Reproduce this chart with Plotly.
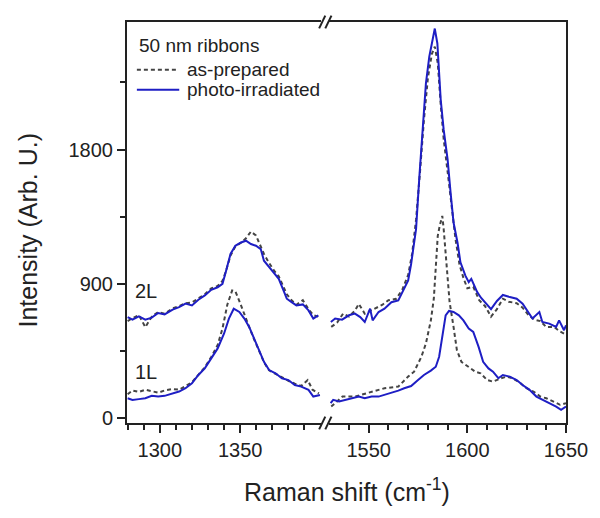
import plotly.graph_objects as go

# ---- data (Raman shift, intensity) ----
# left panel (D band region)
d_x_1l_prep = [1280, 1283, 1287, 1291, 1295, 1299, 1303, 1308, 1312, 1316, 1320, 1324, 1328, 1332,
               1336, 1339, 1342, 1345, 1347, 1350, 1353, 1356, 1359, 1362, 1365, 1368, 1372, 1376,
               1380, 1384, 1388, 1392, 1395, 1399]
d_y_1l_prep = [160, 185, 175, 190, 180, 170, 185, 195, 190, 215, 240, 290, 340, 410,
               490, 600, 760, 855, 850, 770, 680, 600, 520, 440, 370, 320, 295, 270,
               250, 230, 215, 255, 190, 165]

d_x_1l_irr = [1280, 1283, 1287, 1291, 1295, 1299, 1303, 1308, 1312, 1316, 1320, 1324, 1328, 1332,
              1336, 1340, 1343, 1346, 1349.5, 1352.6, 1355.6, 1358.7, 1361.8, 1364.8, 1368, 1372,
              1376, 1380, 1384, 1388, 1392.5, 1395.5, 1399.6]
d_y_1l_irr = [133, 122, 127, 133, 149, 144, 149, 167, 178, 200, 233, 289, 333, 400,
              467, 567, 667, 733, 711, 667, 611, 533, 455, 377, 322, 300,
              267, 255, 222, 211, 189, 144, 155]

d_x_2l = [1280, 1283, 1287, 1291, 1295, 1299, 1303, 1308, 1312, 1316, 1320, 1324, 1328, 1332,
          1336, 1339, 1341, 1344, 1347, 1350.5, 1353.6, 1356.7, 1359.8, 1362.8, 1364.8, 1368,
          1371, 1374, 1377, 1379, 1382, 1385, 1389, 1392.5, 1395.5, 1398.6]
d_y_2l_prep = [650, 670, 690, 610, 680, 710, 700, 735, 750, 770, 775, 800, 830, 870,
               885, 920, 980, 1090, 1150, 1175, 1205, 1250, 1225, 1150, 1100, 1040,
               990, 950, 880, 830, 790, 760, 790, 730, 690, 680]
d_y_2l_irr = [677, 660, 682, 660, 673, 704, 695, 727, 744, 767, 755, 793, 822, 860,
              877, 900, 977, 1100, 1155, 1177, 1189, 1167, 1155, 1133, 1055, 1011,
              967, 933, 855, 800, 777, 755, 762, 722, 667, 689]

# right panel (G band region)
g_x_1l_prep = [1531, 1536.7, 1543, 1551.5, 1558, 1565, 1570, 1573, 1576.7, 1579, 1581.5, 1583,
               1584.2, 1585, 1586, 1587.3, 1588, 1589, 1590, 1591, 1593, 1594.7, 1597, 1600.7,
               1604, 1606.7, 1610, 1613, 1617, 1620, 1623, 1627, 1630, 1633.5, 1637, 1640,
               1643.5, 1647, 1650]
g_y_1l_prep = [77, 144, 144, 178, 200, 211, 278, 311, 411, 500, 655, 800,
               1089, 1222, 1289, 1355, 1267, 1089, 933, 778, 611, 455, 377, 344,
               311, 300, 255, 244, 267, 278, 267, 233, 200, 178, 144, 133,
               111, 89, 100]

g_x_1l_irr = [1530.7, 1532, 1535, 1538, 1541.5, 1545, 1548, 1551.5, 1555, 1558, 1561.5, 1565,
              1568, 1571.5, 1575, 1578, 1581.5, 1584, 1585.7, 1587.3, 1589, 1590.7, 1593,
              1595.7, 1598, 1600.7, 1603, 1605.7, 1608, 1610.7, 1613, 1615.7, 1618, 1621.5,
              1625, 1628, 1631.5, 1635, 1638, 1641.5, 1645, 1647.5, 1650]
g_y_1l_irr = [100, 122, 111, 122, 133, 144, 133, 144, 144, 155, 171, 184,
              200, 215, 255, 289, 318, 344, 411, 544, 689, 718, 711,
              689, 655, 600, 578, 477, 377, 333, 311, 267, 289, 278,
              255, 222, 189, 144, 122, 100, 77, 55, 77]

g_x_2l_prep = [1531, 1534, 1537, 1540, 1543, 1545, 1548, 1551, 1554, 1557, 1560, 1564, 1567,
               1570, 1572, 1574, 1576, 1578, 1580, 1582, 1583.5, 1585, 1586.5, 1588, 1590,
               1592, 1594, 1596, 1598, 1600, 1603, 1606, 1609, 1612, 1615, 1618, 1621, 1625,
               1628, 1631, 1634, 1637, 1640, 1644, 1647, 1650]
g_y_2l_prep = [611, 640, 700, 680, 720, 765, 700, 720, 745, 760, 790, 800, 860,
               960, 1100, 1330, 1650, 2000, 2280, 2440, 2490, 2380, 2100, 1870, 1650,
               1420, 1200, 1030, 940, 870, 880, 790, 750, 680, 730, 800, 780, 770,
               740, 690, 660, 650, 610, 610, 580, 560]

g_x_2l_irr = [1530.8, 1533, 1536.5, 1540, 1543, 1545.7, 1548, 1550.7, 1552, 1555, 1558, 1561.5,
              1565, 1567, 1570, 1571.5, 1574, 1575.7, 1577.3, 1579, 1580.7, 1582.3, 1583.5,
              1584.8, 1586.5, 1588, 1590, 1591.5, 1593, 1595, 1596.5, 1599, 1600.7, 1602,
              1605, 1607, 1610, 1612, 1615, 1618, 1621.5, 1625, 1628, 1630.7, 1633, 1636.5,
              1638, 1641.5, 1645, 1646.5, 1649, 1650]
g_y_2l_irr = [644, 667, 660, 689, 700, 677, 644, 733, 655, 711, 733, 777,
              789, 844, 922, 1033, 1267, 1622, 1955, 2244, 2422, 2533, 2611,
              2511, 2133, 1933, 1733, 1511, 1311, 1177, 1044, 955, 911, 933,
              844, 805, 760, 730, 785, 825, 811, 800, 767, 711, 667, 711,
              644, 633, 611, 655, 589, 622]

BLUE = '#1e1ec4'
GRAY = '#444444'
TXT = '#222222'
DASH = '4px,3px'

fig = go.Figure()


def add(x, y, prep, xa):
    if prep:
        line = dict(color=GRAY, width=2, dash=DASH)
        name = 'as-prepared'
    else:
        line = dict(color=BLUE, width=2)
        name = 'photo-irradiated'
    fig.add_trace(go.Scatter(x=x, y=y, mode='lines', line=line, name=name,
                             xaxis=xa, yaxis='y' if xa == 'x' else 'y2',
                             showlegend=False, hoverinfo='skip'))


add(d_x_1l_prep, d_y_1l_prep, True, 'x')
add(d_x_1l_irr, d_y_1l_irr, False, 'x')
add(d_x_2l, d_y_2l_prep, True, 'x')
add(d_x_2l, d_y_2l_irr, False, 'x')
add(g_x_1l_prep, g_y_1l_prep, True, 'x2')
add(g_x_1l_irr, g_y_1l_irr, False, 'x2')
add(g_x_2l_prep, g_y_2l_prep, True, 'x2')
add(g_x_2l_irr, g_y_2l_irr, False, 'x2')

axis_common = dict(showline=True, linecolor='#222', linewidth=2, showgrid=False,
                   zeroline=False, ticks='outside', ticklen=8, tickwidth=1.5,
                   tickcolor='#222', tickfont=dict(size=20, color=TXT))
minor_common = dict(ticks='outside', ticklen=5, tickwidth=1.5, tickcolor='#222')

# the page body adds an 8px offset, so the figure is drawn 8px smaller
fig.update_layout(
    width=592, height=510,
    margin=dict(l=119, r=28, t=12, b=95),
    paper_bgcolor='white', plot_bgcolor='white',
    font=dict(family='Liberation Sans, Arial, sans-serif', color=TXT),
    showlegend=False,
    xaxis=dict(domain=[0, 0.4427], range=[1279.6, 1400.5], mirror=True,
               tickvals=[1300, 1350],
               minor=dict(tickvals=list(range(1280, 1400, 10)), **minor_common),
               **axis_common),
    xaxis2=dict(domain=[0.4607, 1], range=[1530, 1650], mirror=True, anchor='y2',
                tickvals=[1550, 1600, 1650],
                minor=dict(tickvals=list(range(1540, 1650, 10)), **minor_common),
                **axis_common),
    yaxis=dict(range=[-33, 2655], tickvals=[0, 900, 1800],
               minor=dict(tickvals=[450, 1350, 2250], **minor_common),
               **axis_common),
    yaxis2=dict(range=[-33, 2655], anchor='x2', side='right', showline=True,
                linecolor='#222', linewidth=2, showgrid=False, zeroline=False,
                showticklabels=False, ticks=''),
)


def label(text, x, y, size, xanchor='left', yref='paper', **kw):
    fig.add_annotation(text=text, xref='paper', yref=yref, x=x, y=y,
                       xanchor=xanchor, yanchor='middle', showarrow=False,
                       font=dict(size=size, color=TXT), **kw)


# axis titles
label('Raman shift (cm<sup>-1</sup>)', 0.5, 0, 25, xanchor='center', yshift=-67)
label('Intensity (Arb. U.)', 0, 0.48, 25, xanchor='center', xshift=-99, textangle=-90)

# curve labels
label('2L', 0.013, 849, 20, yref='y')
label('1L', 0.013, 309, 20, yref='y')

# legend block
label('50 nm ribbons', 0.0225, 0.9404, 19)
label('as-prepared', 0.1326, 0.881, 19)
label('photo-irradiated', 0.1326, 0.831, 19)
fig.add_shape(type='line', xref='paper', yref='paper', x0=0.0225, x1=0.1124,
              y0=0.881, y1=0.881, line=dict(color=GRAY, width=2, dash=DASH))
fig.add_shape(type='line', xref='paper', yref='paper', x0=0.0225, x1=0.119,
              y0=0.831, y1=0.831, line=dict(color=BLUE, width=2))

# axis-break marks (//) on the top and bottom lines
for yb in (0, 1):
    for xb in (0.4427 + 0.002, 0.4607 - 0.002):
        fig.add_shape(type='line', xref='paper', yref='paper',
                      x0=xb - 0.007, x1=xb + 0.007, y0=yb - 0.016, y1=yb + 0.016,
                      line=dict(color='#222', width=2))

fig.write_html("out.html")
